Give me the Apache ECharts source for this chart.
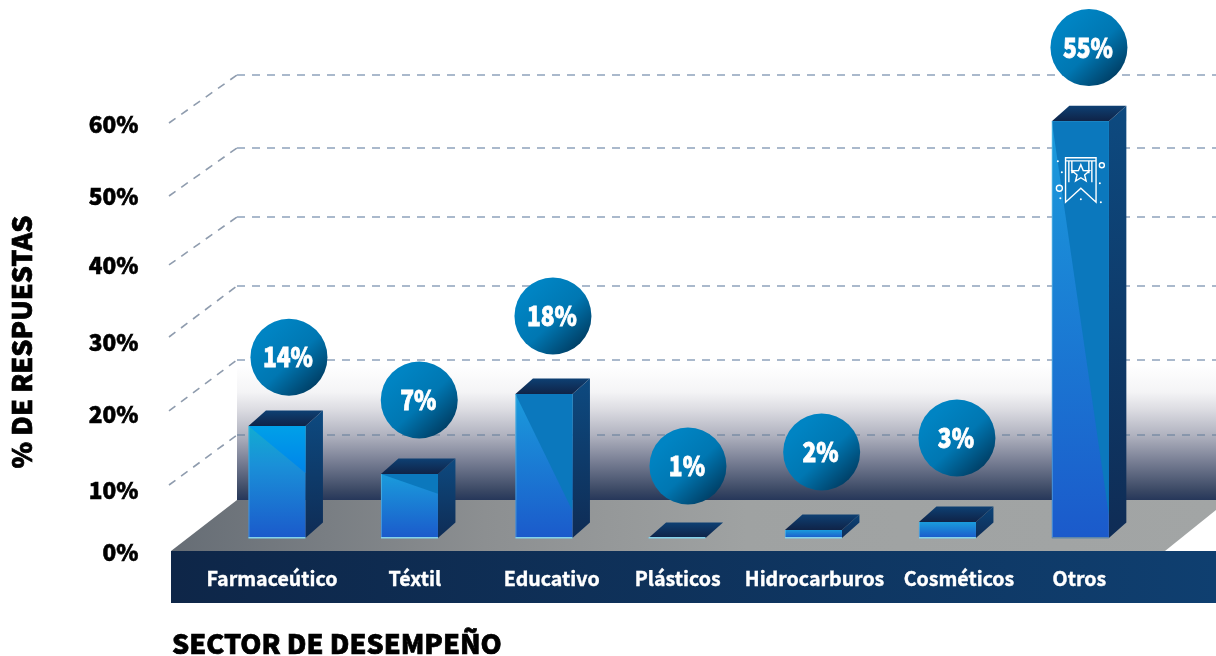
<!DOCTYPE html>
<html>
<head>
<meta charset="utf-8">
<style>html,body{margin:0;padding:0;background:#fff}#c{width:1216px;height:656px}</style>
<script src="https://cdn.jsdelivr.net/npm/echarts@6/dist/echarts.min.js"></script>
</head>
<body>
<div id="c"></div>
<script>
// ---- data ----
const categories = ['Farmaceútico','Téxtil','Educativo','Plásticos','Hidrocarburos','Cosméticos','Otros'];
const percentages = [14,7,18,1,2,3,55];
// height of each drawn column, on the column axis
const columnHeights = [14,8,18,0,1,2,52.1];
// where each value bubble floats, on the column axis
const bubbleHeights = [22.6,17.25,27.75,9,10.75,12.5,61.3];
// share of the face covered by the darker facet
const facetShares = [0.42,0.31,0.81,0,0,0,0.945];
const tickLabels = ['0%','10%','20%','30%','40%','50%','60%'];
const tickStops = [0,8.69,19.35,29.44,40.24,49.91,60];
const gridFrontStops = [9.39,19.77,30.14,40.24,49.91,60.14];
const gridBackStops = [16.4,26.92,37.29,46.96,56.64,66.87];
const labelShift = [-5,4,7,-1,2,12.5,-1];
const columnShift = [0,-1.4,-0.8,-1.6,0.9,1,0];
const bubbleShift = [12,8.4,8.2,9.3,9.1,10.5,8.6];

const FONT = '"Noto Sans CJK SC","Noto Sans",sans-serif';
const linear = (x,y,x2,y2,stops) => ({type:'linear',x,y,x2,y2,colorStops:stops.map((c,i)=>({offset:c[0],color:c[1]}))});

const ICON_LINES = 'M13.7 36.5H44.2V81L29 67L13.7 81ZM13.7 39.7H44.2M17 40V61M20 40V52M37 40V52M40 40V61' +
  'M29 43.5L31.4 49.3L37.6 49.7L32.8 53.7L34.3 59.8L29 56.5L23.7 59.8L25.2 53.7L20.4 49.7L26.6 49.3Z' +
  'M47.5 44a2.5 2.5 0 1 0 5 0a2.5 2.5 0 1 0 -5 0M4.5 67a3 3 0 1 0 6 0a3 3 0 1 0 -6 0';
const dot = (x,y)=>`M${x-1} ${y}a1 1 0 1 0 2 0a1 1 0 1 0 -2 0`;
const ICON_DOTS = [[6,40],[10,51],[8.5,77],[29,78],[48,62],[49,81]].map(p=>dot(p[0],p[1])).join('');

const HALF = 28.5, DX = 17.5, DY = 15.5;

function renderGridline(params, api){
  const yf = api.coord([0, api.value(1)])[1];
  const yb = api.coord([0, api.value(2)])[1];
  const style = {stroke: yb > 400 ? '#7b8da5' : '#8ea3bc', lineWidth:1.6, lineDash:[8,7], fill:null};
  return {type:'group', children:[
    {type:'line', shape:{x1:169,y1:yf,x2:237,y2:yb}, style:{...style, stroke:'#8f9cae'}},
    {type:'line', shape:{x1:237,y1:yb,x2:1216,y2:yb}, style}
  ]};
}

function renderColumn(params, api){
  const i = api.value(0), base = api.coord([i,0]), top = api.coord([i,api.value(1)]);
  const x = base[0] + columnShift[i], by = base[1], ty = top[1], h = by-ty, l = x-HALF, r = x+HALF;
  const share = facetShares[i];
  const bright = i === 0;
  const children = [];
  children.push({type:'polygon', shape:{points:[[r,ty],[r+DX,ty-DY],[r+DX,by-DY],[r,by]]},
    style:{fill:linear(0,0,0,1,[[0,h>40?'#0d4a80':'#0c4478'],[1,'#0f2c55']])}});
  children.push({type:'polygon', shape:{points:[[l,ty],[l+DX,ty-DY],[r+DX,ty-DY],[r,ty]]},
    style:{fill:linear(0,1,0,0,[[0,'#0f2347'],[1,'#0e4073']])}});
  if (h > 0) {
    children.push({type:'rect', shape:{x:l,y:ty,width:r-l,height:h},
      style:{fill:bright ? linear(0,0,0,1,[[0,'#12acd2'],[0.35,'#1a90d8'],[1,'#1b5acb']])
                         : linear(0,0,0,1,[[0,'#1a9cdc'],[1,'#1b5acb']])}});
    if (share > 0) {
      children.push({type:'polygon', shape:{points:[[l,ty],[r,ty],[r,ty+h*share]]},
        style:{fill: bright ? linear(0,0,0,1,[[0,'#00a0e8'],[1,'#0084ea']]) : '#0b78bd'}});
    }
    children.push({type:'rect', shape:{x:l,y:ty,width:1,height:h}, style:{fill:'#7fd0ea', opacity:0.45}});
  }
  children.push({type:'rect', shape:{x:l,y:by-1,width:r-l,height:1.5}, style:{fill:i===6?'#5f86a8':'#84d2ea'}});
  if (i === 6) {
    children.push({type:'path', x:l, y:ty, shape:{pathData:ICON_LINES}, style:{fill:null, stroke:'#fff', lineWidth:1.4}});
    children.push({type:'path', x:l, y:ty, shape:{pathData:ICON_DOTS}, style:{fill:'#fff'}});
  }
  return {type:'group', children};
}

function renderBubble(params, api){
  const i = api.value(0), c = api.coord([i, api.value(1)]);
  const x = c[0] + bubbleShift[i], y = c[1];
  return {type:'group', children:[
    {type:'circle', shape:{cx:x,cy:y,r:38.5}, style:{fill:linear(0.2,0.2,0.85,0.9,[[0,'#0084c3'],[0.5,'#0077b2'],[1,'#003d63']])}},
    {type:'text', x:x-1, y, scaleX:0.84, style:{text:api.value(2)+'%', x:0, y:0, align:'center', verticalAlign:'middle',
      fill:'#fff', font:'900 27px '+FONT, stroke:'#fff', lineWidth:0.8}}
  ]};
}

const chart = echarts.init(document.getElementById('c'), null, {renderer:'canvas'});
const gridLeft = 210, gridWidth = 937.3;
chart.setOption({
  animation:false,
  backgroundColor:'#fff',
  title:{text:'SECTOR DE DESEMPEÑO', left:172, top:630, padding:0,
    textStyle:{fontFamily:FONT, fontWeight:900, fontSize:27, color:'#000', textBorderColor:'#000', textBorderWidth:0.7}},
  graphic:[
    {type:'rect', z:0, shape:{x:237,y:365,width:979,height:135},
      style:{fill:linear(0,0,0,1,[[0,'#ffffff'],[0.2,'#f4f4f6'],[0.33,'#dcdce2'],[0.52,'#b0b2bf'],[0.7,'#7c8297'],[0.93,'#3a4864'],[1,'#26375a']])}},
    {type:'polygon', z:0, shape:{points:[[171,551],[237,500],[1216,500],[1216,510],[1165,551]]},
      style:{fill:linear(0,0,1,0,[[0,'#666d75'],[0.3,'#8c8f91'],[0.55,'#9fa2a2'],[1,'#a2a5a5']])}},
    {type:'rect', z:0, shape:{x:171,y:551,width:1045,height:52},
      style:{fill:linear(0,0,1,0,[[0,'#0e2648'],[1,'#0f3f70']])}}
  ],
  grid:[
    {left:gridLeft, width:gridWidth, top:124, height:428},
    {left:gridLeft, width:gridWidth, top:18, height:520}
  ],
  xAxis:[
    {type:'category', gridIndex:0, data:categories, show:false},
    {type:'category', gridIndex:1, data:categories, z:5,
      axisLine:{show:false}, axisTick:{show:false},
      axisLabel:{interval:0, margin:31, color:'#fff',
        formatter:(v,i)=>`{s${i}|${v}}`,
        rich:Object.fromEntries(labelShift.map((d,i)=>['s'+i,{
          fontFamily:FONT, fontWeight:700, fontSize:19.6, color:'#fff', textBorderColor:'#fff', textBorderWidth:0.4,
          padding:[0,d<0?-2*d:0,0,d>0?2*d:0]}]))}}
  ],
  yAxis:[
    {type:'value', gridIndex:0, min:0, max:60, splitLine:{show:false},
      axisLine:{show:false}, axisTick:{show:false},
      axisLabel:{customValues:tickStops, margin:84, color:'#000', fontFamily:FONT, fontWeight:900, fontSize:22.5,
        textBorderColor:'#000', textBorderWidth:0.6,
        formatter:(v)=>tickLabels[tickStops.indexOf(v)]},
      name:'% DE RESPUESTAS', nameLocation:'middle', nameGap:187, nameRotate:90,
      nameTextStyle:{fontFamily:FONT, fontWeight:900, fontSize:27, color:'#000', padding:[0,8,0,0], textBorderColor:'#000', textBorderWidth:0.7}},
    {type:'value', gridIndex:1, min:0, max:65, show:false}
  ],
  series:[
    {type:'custom', name:'Líneas', xAxisIndex:0, yAxisIndex:0, z:1, clip:false, silent:true,
      data:gridFrontStops.map((v,i)=>[0,v,gridBackStops[i]]), encode:{x:0,y:1}, renderItem:renderGridline},
    {type:'custom', name:'% de respuestas', xAxisIndex:1, yAxisIndex:1, z:3, clip:false,
      data:categories.map((c,i)=>[i,columnHeights[i]]), encode:{x:0,y:1}, renderItem:renderColumn},
    {type:'custom', name:'Valores', xAxisIndex:1, yAxisIndex:1, z:4, clip:false,
      data:categories.map((c,i)=>[i,bubbleHeights[i],percentages[i]]), encode:{x:0,y:1}, renderItem:renderBubble}
  ]
});
</script>
</body>
</html>
